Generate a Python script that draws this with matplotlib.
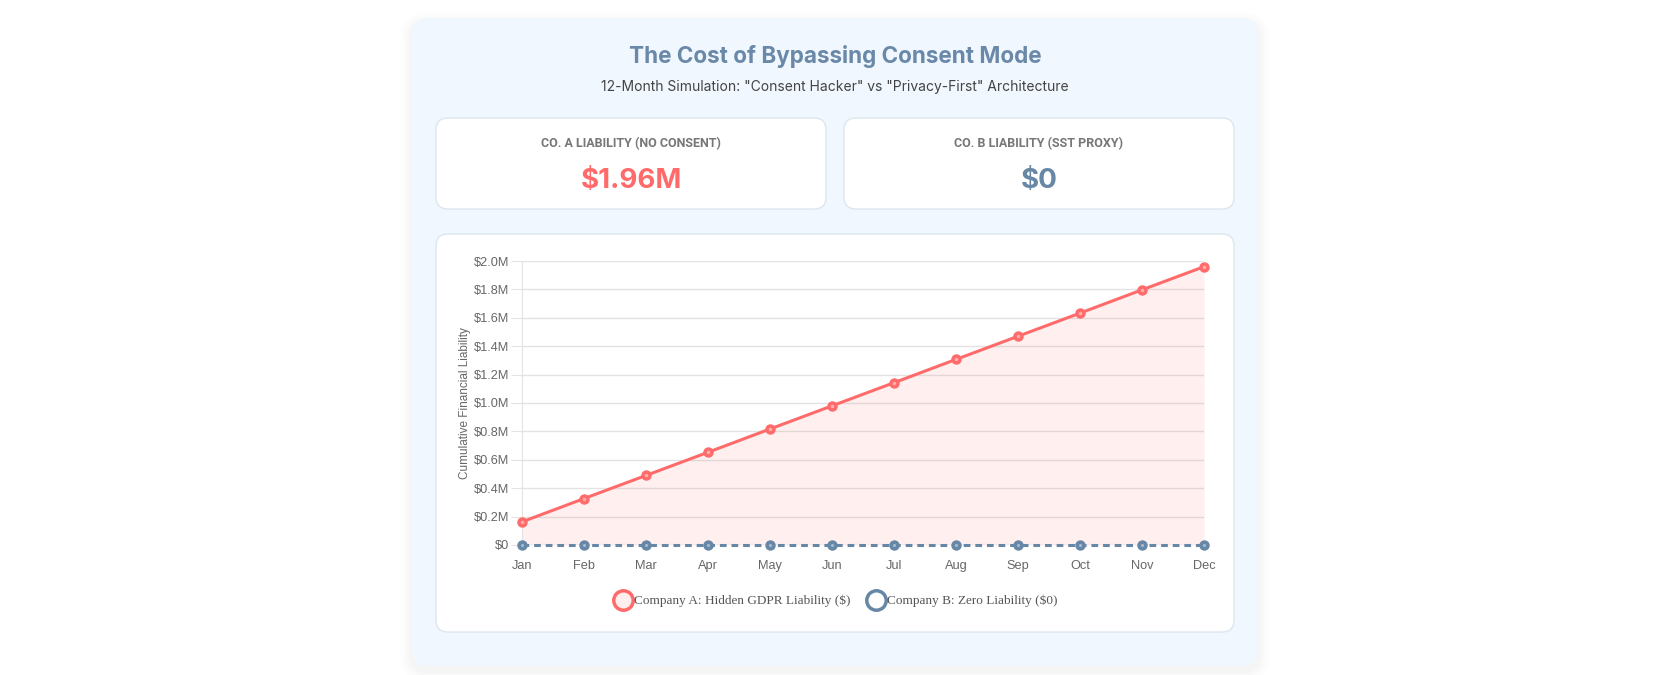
import matplotlib
matplotlib.use("Agg")
import matplotlib.pyplot as plt
from matplotlib.patches import FancyBboxPatch
from matplotlib.ticker import FuncFormatter
from matplotlib.lines import Line2D

# ---- data ----
months = ["Jan", "Feb", "Mar", "Apr", "May", "Jun", "Jul", "Aug", "Sep", "Oct", "Nov", "Dec"]
company_a = [0.163, 0.327, 0.49, 0.653, 0.817, 0.98, 1.143, 1.307, 1.47, 1.633, 1.797, 1.96]  # $M
company_b = [0, 0, 0, 0, 0, 0, 0, 0, 0, 0, 0, 0]
y_ticks = [0, 0.2, 0.4, 0.6, 0.8, 1.0, 1.2, 1.4, 1.6, 1.8, 2.0]
title = "The Cost of Bypassing Consent Mode"
subtitle = '12-Month Simulation: "Consent Hacker" vs "Privacy-First" Architecture'
card_labels = ["CO. A LIABILITY (NO CONSENT)", "CO. B LIABILITY (SST PROXY)"]
card_values = ["$1.96M", "$0"]
legend_labels = ["Company A: Hidden GDPR Liability ($)", "Company B: Zero Liability ($0)"]

RED = "#ff6b6b"
BLUE = "#6787a6"
TITLE_C = "#6a88a8"
W, H = 1671, 675

fig = plt.figure(figsize=(W / 100, H / 100), dpi=100)
fig.patch.set_facecolor("white")

bg = fig.add_axes([0, 0, 1, 1])
bg.set_xlim(0, W)
bg.set_ylim(H, 0)
bg.axis("off")


def box(x0, y0, x1, y1, fc, ec="none", r=12, lw=1, alpha=1, z=1):
    p = FancyBboxPatch((x0, y0), x1 - x0, y1 - y0,
                       boxstyle=f"round,pad=0,rounding_size={r}",
                       fc=fc, ec=ec, lw=lw, alpha=alpha, zorder=z)
    bg.add_patch(p)


# shadow
for i, a in enumerate([0.012, 0.015, 0.02, 0.025]):
    d = 12 - i * 3
    box(412 - d, 18 - d + 6, 1258 + d, 666 + d + 4, "#8090a0", alpha=a, r=16 + d, z=0)
# outer panel
box(412, 18, 1258, 666, "#f0f7fe", r=16, z=1)
# cards
box(436, 118, 826, 209, "white", ec="#dde6ee", r=12, z=2)
box(844, 118, 1234, 209, "white", ec="#dde6ee", r=12, z=2)
# chart card
box(436, 234, 1234, 632, "white", ec="#dde6ee", r=12, z=2)

bg.text(835, 57, title, ha="center", va="center", fontsize=16.2, fontweight="bold",
        color=TITLE_C, family="Inter", zorder=3)
bg.text(835, 87, subtitle, ha="center", va="center", fontsize=10,
        color="#444444", family="Inter", zorder=3)

for cx, lab, val, col in [(631, card_labels[0], card_values[0], RED),
                          (1039, card_labels[1], card_values[1], BLUE)]:
    bg.text(cx, 144, lab, ha="center", va="center", fontsize=9.0, fontweight="bold",
            color="#777777", family="Roboto", zorder=3)
    bg.text(cx, 181, val, ha="center", va="center", fontsize=20, fontweight="bold",
            color=col, family="Inter", zorder=3)

# ---- chart ----
L, R, T, B = 522, 1204, 261, 545
ax = fig.add_axes([L / W, (H - B) / H, (R - L) / W, (B - T) / H])
ax.set_facecolor("none")
x = list(range(len(months)))
ax.set_xlim(0, len(months) - 1)
ax.set_ylim(0, 2.0)

ax.fill_between(x, company_a, 0, color=RED, alpha=0.1, lw=0, zorder=1)
ax.plot(x, company_a, color=RED, lw=2.2, zorder=3, clip_on=False,
        marker="o", ms=6.5, mfc=RED, mec=RED, mew=1)
ax.plot(x, company_a, ls="none", marker="o", ms=2.5, mfc="#ffb0b0", mec="none",
        zorder=4, clip_on=False)
ax.plot(x, company_b, color=BLUE, lw=2.2, ls=(0, (2.2, 1.6)), zorder=3, clip_on=False,
        marker="o", ms=6.5, mfc=BLUE, mec=BLUE, mew=1)
ax.plot(x, company_b, ls="none", marker="o", ms=2.2, mfc="#a9bdd0", mec="none",
        zorder=4, clip_on=False)

ax.set_yticks(y_ticks)
ax.yaxis.set_major_formatter(FuncFormatter(lambda v, p: "$0" if abs(v) < 1e-9 else f"${v:.1f}M"))
ax.set_xticks(x)
ax.set_xticklabels(months)
ax.grid(axis="y", color="#e3e3e3", lw=1)
ax.set_axisbelow(True)
for s in ["top", "right", "bottom"]:
    ax.spines[s].set_visible(False)
ax.spines["left"].set_color("#e3e3e3")
ax.tick_params(axis="y", length=8, color="#e3e3e3", pad=1, labelsize=9.2, labelcolor="#666666")
ax.tick_params(axis="x", length=0, pad=11, labelsize=9.2, labelcolor="#666666")
for t in ax.get_xticklabels() + ax.get_yticklabels():
    t.set_family("Liberation Sans")
ax.set_ylabel("Cumulative Financial Liability", fontsize=8.5, color="#666666",
              family="Liberation Sans", labelpad=2)

handles = [Line2D([], [], ls="none", marker="o", ms=14, mfc="#ffeeee", mec=RED, mew=2.5),
           Line2D([], [], ls="none", marker="o", ms=14, mfc="white", mec=BLUE, mew=2.5)]
leg = fig.legend(handles, legend_labels, loc="center", bbox_to_anchor=(835 / W, (H - 601) / H),
                 ncol=2, frameon=False, handletextpad=0.0, columnspacing=1.2,
                 prop={"family": "Liberation Serif", "size": 9.5}, handlelength=1.6)
for t in leg.get_texts():
    t.set_color("#555555")

fig.savefig("out.png", dpi=100, facecolor="white")
